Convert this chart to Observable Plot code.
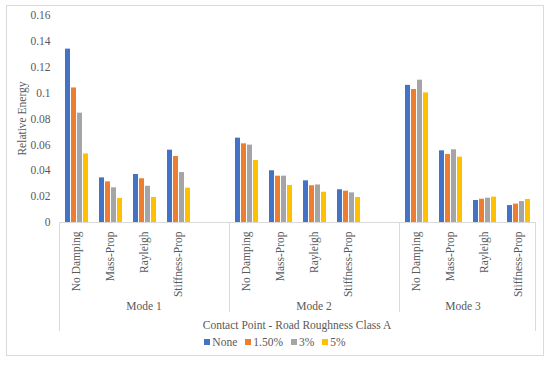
<!DOCTYPE html>
<html>
<head>
<meta charset="utf-8">
<script src="https://cdn.jsdelivr.net/npm/d3@7"></script>
<script src="https://cdn.jsdelivr.net/npm/@observablehq/plot@0.6"></script>
<style>
  html, body { margin: 0; padding: 0; background: #fff; }
  body { width: 550px; height: 365px; position: relative; overflow: hidden; font-family: "Liberation Serif", "DejaVu Serif", serif; }
  #frame { position: absolute; left: 6px; top: 5px; width: 536px; height: 349px; border: 1px solid #d9d9d9; box-sizing: content-box; }
  #chart { position: absolute; left: 0; top: 0; }
  #legend { position: absolute; left: 0; top: 336px; width: 550px; display: flex; justify-content: center; gap: 8px; font-family: "Liberation Serif", "DejaVu Serif", serif; font-size: 11.5px; color: #595959; }
  #legend span.sw { display: inline-block; width: 6px; height: 6px; margin-right: 2px; vertical-align: 1px; }
  #chart svg text { font-family: "Liberation Serif", "DejaVu Serif", serif; }
</style>
</head>
<body>
<div id="frame"></div>
<div id="chart"></div>
<div id="legend"></div>
<script>
// ---- data ----
const modes = ["Mode 1", "Mode 2", "Mode 3"];
const dampings = ["No Damping", "Mass-Prop", "Rayleigh", "Stiffness-Prop"];
const seriesNames = ["None", "1.50%", "3%", "5%"];
const seriesColors = ["#4472C4", "#ED7D31", "#A5A5A5", "#FFC000"];
const yTicks = [0, 0.02, 0.04, 0.06, 0.08, 0.1, 0.12, 0.14, 0.16];
// values ordered: Mode1 (4 dampings), Mode2 (4), Mode3 (4)
const valuesNone = [0.134, 0.0345, 0.0371, 0.0559, 0.0652, 0.0400, 0.0322, 0.0253, 0.1060, 0.0554, 0.0170, 0.0131];
const values150 = [0.104, 0.0314, 0.0338, 0.0510, 0.0608, 0.0358, 0.0284, 0.0242, 0.1028, 0.0526, 0.0180, 0.0142];
const values3 = [0.0845, 0.0268, 0.0280, 0.0386, 0.0598, 0.0358, 0.0290, 0.0229, 0.1100, 0.0562, 0.0188, 0.0162];
const values5 = [0.053, 0.0186, 0.0193, 0.0265, 0.0479, 0.0286, 0.0234, 0.0193, 0.1002, 0.0505, 0.0196, 0.0178];
const xTitle = "Contact Point - Road Roughness Class A";
const yTitle = "Relative Energy";

// ---- build table ----
const allValues = [valuesNone, values150, values3, values5];
const rows = [];
modes.forEach((m, mi) => {
  dampings.forEach((d, di) => {
    seriesNames.forEach((s, si) => {
      rows.push({ cat: m + "|" + d, mode: m, damping: d, series: s, value: allValues[si][mi * 4 + di] });
    });
  });
});
// category domain with a blank spacer after modes 1 and 2
const catDomain = [];
modes.forEach((m, mi) => {
  dampings.forEach(d => catDomain.push(m + "|" + d));
  if (mi < modes.length - 1) catDomain.push(m + "|");
});

const textColor = "#595959";
const fontStack = "'Liberation Serif', 'DejaVu Serif', serif";
const plot = Plot.plot({
  width: 550,
  height: 335,
  marginTop: 15,
  marginBottom: 113,
  marginLeft: 59,
  marginRight: 15,
  style: { fontFamily: fontStack, fontSize: "11.5px", color: textColor, background: "transparent" },
  fx: {
    domain: catDomain,
    padding: 0,
    tickRotate: -90,
    tickSize: 0,
    tickPadding: 9,
    tickFormat: k => k.split("|")[1],
    label: null
  },
  x: { domain: seriesNames, paddingInner: 0.17, paddingOuter: 0.9, axis: null },
  y: {
    domain: [0, 0.16],
    ticks: yTicks,
    tickFormat: d => String(+d.toFixed(2)),
    tickSize: 0,
    tickPadding: 9,
    label: null
  },
  color: { domain: seriesNames, range: seriesColors },
  marks: [
    Plot.ruleY(catDomain, { fx: d => d, y: () => 0, stroke: "#d9d9d9", strokeOpacity: 1 }),
    Plot.barY(rows, { fx: "cat", x: "series", y: "value", fill: "series" })
  ]
});
document.getElementById("chart").appendChild(plot);

// ---- hierarchical category axis details drawn from Plot's own scales ----
const svg = d3.select(plot.tagName.toLowerCase() === "svg" ? plot : plot.querySelector("svg"));
const fxS = plot.scale("fx");
const yS = plot.scale("y");
const band = d3.scaleBand(fxS.domain, fxS.range)
  .paddingInner(fxS.paddingInner || 0).paddingOuter(fxS.paddingOuter || 0).align(fxS.align ?? 0.5);
const fxPos = k => (fxS.apply ? fxS.apply(k) : band(k));
const bw = band.bandwidth();
const y0 = yS.apply ? yS.apply(0) : 222;
const xLeft = fxPos(catDomain[0]);
const xRight = fxPos(catDomain[catDomain.length - 1]) + bw;
const g = svg.append("g").attr("stroke", "#d9d9d9").attr("stroke-width", 1);
// outer vertical lines
[xLeft, xRight].forEach(x => g.append("line").attr("x1", x + 0.5).attr("x2", x + 0.5).attr("y1", y0).attr("y2", y0 + 109));
// mode separators
modes.slice(1).forEach(m => {
  const x = fxPos(m + "|" + dampings[0]);
  g.append("line").attr("x1", x + 0.5).attr("x2", x + 0.5).attr("y1", y0).attr("y2", y0 + 90);
});
// mode labels
const tg = svg.append("g").attr("fill", textColor).attr("text-anchor", "middle").attr("font-size", "11.5px").attr("font-family", fontStack);
modes.forEach((m, mi) => {
  const keys = catDomain.filter(k => k.startsWith(m + "|"));
  const a = fxPos(keys[0]);
  const b = fxPos(keys[keys.length - 1]) + bw;
  tg.append("text").attr("x", (a + b) / 2 - (mi === modes.length - 1 ? 4 : 0)).attr("y", y0 + 84).attr("dy", "0.35em").text(m);
});
// x title
tg.append("text").attr("x", (xLeft + xRight) / 2).attr("y", y0 + 103).attr("dy", "0.35em").text(xTitle);
// y title
const yTop = yS.apply ? yS.apply(0.16) : 15;
tg.append("text").attr("transform", `translate(22,${(yTop + y0) / 2}) rotate(-90)`).attr("dy", "0.35em").text(yTitle);

// ---- legend ----
const legend = d3.select("#legend");
seriesNames.forEach((s, i) => {
  const item = legend.append("div");
  item.append("span").attr("class", "sw").style("background", seriesColors[i]);
  item.append("span").text(s);
});
</script>
</body>
</html>
